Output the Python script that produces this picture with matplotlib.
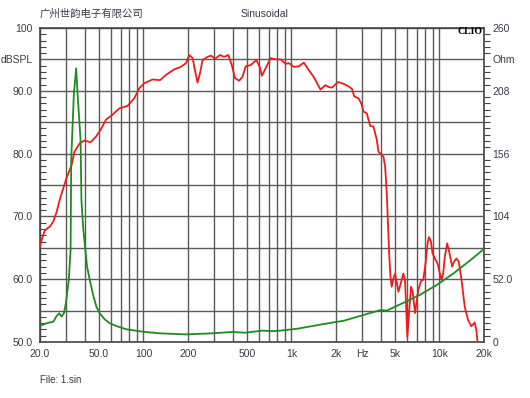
import numpy as np
import matplotlib
matplotlib.use('Agg')
import matplotlib.pyplot as plt
from matplotlib.ticker import FixedLocator, NullFormatter

# SPL curve (Hz, dBSPL)
spl_f = [20, 20.85, 21.6, 23.4, 24.6, 25.9, 27.3, 30.2, 32.7, 34.2, 37.0, 40.0,
         43.9, 47.8, 51.7, 55.8, 60.4, 68.8, 78.1, 86.7, 93.7, 101.2, 115.1,
         129.7, 141.4, 161.1, 178.3, 194, 204, 215, 224, 232, 241, 251, 271,
         286, 305, 329, 351, 375, 395, 416, 443, 466, 491, 531, 579, 610, 632,
         676, 724, 782, 845, 913, 962, 1038, 1122, 1212, 1309, 1415, 1513, 1571,
         1696, 1786, 1879, 2062, 2253, 2433, 2563, 2658, 2839, 2962, 3069, 3229,
         3405, 3584, 3773, 3873, 4185, 4296, 4406, 4480, 4574, 4664, 4757, 4887,
         5013, 5143, 5279, 5474, 5703, 5852, 5941, 6068, 6231, 6427, 6587, 6842,
         7006, 7197, 7507, 7773, 8056, 8313, 8497, 8763, 8979, 9318, 9706,
         10069, 10325, 10597, 10879, 11270, 11630, 12186, 12568, 13020, 13510,
         14063, 14824, 15600, 16430, 17303, 17760, 18030]
spl_db = [65.2, 66.8, 67.8, 68.4, 69.2, 70.7, 72.8, 76.1, 78.2, 80.3, 81.6, 82.1,
          81.8, 82.7, 83.9, 85.4, 86.0, 87.2, 87.6, 88.8, 90.4, 91.2, 91.8,
          91.7, 92.5, 93.4, 93.8, 94.4, 95.7, 95.2, 93.0, 91.3, 92.8, 94.9, 95.4,
          95.6, 95.1, 95.7, 95.4, 95.7, 94.1, 92.0, 91.6, 92.2, 93.9, 94.1, 94.9, 93.8, 92.4,
          93.8, 95.2, 95.0, 95.0, 94.3, 94.4, 93.8, 93.9, 94.5, 93.3, 92.2, 90.9, 90.2,
          90.9, 90.6, 90.5, 91.4, 91.1, 90.7, 90.3, 89.1, 88.8, 88.0, 86.7, 86.4,
          84.4, 84.3, 82.2, 80.3, 79.5, 77.9, 73.7, 69.4, 64.1, 60.4, 58.8, 60.1,
          60.9, 59.6, 58.0, 59.3, 60.9, 59.9, 56.2, 50.8, 54.6, 58.8, 58.0, 54.6,
          56.4, 58.3, 59.7, 59.9, 62.5, 65.7, 66.7, 66.0, 64.1, 63.3, 62.5,
          60.9, 59.9, 60.9, 63.6, 65.7, 64.4, 62.0, 62.8, 63.3, 62.8,
          60.1, 55.6, 53.5, 52.5, 53.1, 51.9, 50.3]

# impedance curve (Hz, Ohm)
imp_f = [20, 22.1, 24.6, 25.9, 27.0, 28.0, 29.0, 29.9, 31.3, 32.2, 32.5, 33.9,
         35.1, 36.0, 37.6, 38.1, 39.1, 40.1, 41.6, 43.4, 45.7, 48.1, 50.6, 54.7,
         59.2, 65.6, 76.8, 99.2, 128.5, 193.5, 292.6, 398.6, 489.2, 633.3, 750,
         843, 1098, 1654, 2254, 3073, 4004, 4406, 5612, 7348, 9576, 12470,
         16250, 19870]
imp_ohm = [13.2, 15.5, 16.8, 21.5, 23.8, 21.0, 23.8, 32.0, 51.3, 76.2, 150.7, 206.0,
           226.6, 203.0, 167.0, 117.6, 95.5, 81.7, 62.3, 51.3, 38.9, 29.2, 23.8, 18.8,
           15.5, 13.2, 10.5, 8.5, 7.2, 6.3, 7.2, 8.3, 7.7, 9.4, 9.0,
           9.4, 11.0, 14.9, 17.6, 22.4, 26.5, 26.0, 32.0, 38.9, 47.2, 56.9,
           67.9, 76.8]

xticks = [20, 50, 100, 200, 500, 1000, 2000, 3000, 5000, 10000, 20000]
xlabels = ['20.0', '50.0', '100', '200', '500', '1k', '2k', 'Hz', '5k', '10k', '20k']
yticks = [50, 55, 60, 65, 70, 75, 80, 85, 90, 95, 100]
ylabels = ['50.0', '', '60.0', '', '70.0', '', '80.0', '', '90.0', 'dBSPL', '100']
rticks = [0, 52, 104, 156, 208, 234, 260]
rlabels = ['0', '52.0', '104', '156', '208', 'Ohm', '260']

plt.rcParams['font.family'] = ['Liberation Sans', 'DejaVu Sans']
txtcol = '#3a3a4a'
gridcol = '#5a5a5a'

fig = plt.figure(figsize=(5.30, 3.98), dpi=100)
ax = fig.add_axes([40 / 530, 1 - 342 / 398, 444 / 530, 314 / 398])
ax.set_xscale('log')
ax.set_xlim(20, 20000)
ax.set_ylim(50, 100)

# grid
vgrid = [m * 10 ** d for d in range(1, 5) for m in range(1, 10) if 20 <= m * 10 ** d <= 20000]
for v in vgrid:
    ax.axvline(v, color=gridcol, lw=1.0, zorder=1)
for h in yticks:
    ax.axhline(h, color=gridcol, lw=1.0, zorder=1)

ax.plot(spl_f, spl_db, color='#ee1c1c', lw=1.3, zorder=3)

ax.xaxis.set_major_locator(FixedLocator(xticks))
ax.set_xticklabels(xlabels)
ax.xaxis.set_minor_formatter(NullFormatter())
ax.tick_params(axis='x', which='both', length=0, labelsize=7.5, colors=txtcol, pad=5)
ax.set_yticks(yticks)
ax.set_yticklabels(ylabels)
ax.yaxis.set_minor_locator(FixedLocator(np.arange(50, 101, 1)))
ax.tick_params(axis='y', which='major', length=0, labelsize=7.5, colors=txtcol, pad=5)
ax.tick_params(axis='y', which='minor', length=4, direction='in', color='#444444', width=0.8)
for s in ax.spines.values():
    s.set_color('#444444')
    s.set_linewidth(1.2)

ax2 = ax.twinx()
ax2.set_ylim(0, 260)
ax2.plot(imp_f, imp_ohm, color='#1e8c1e', lw=1.3, zorder=3)
ax2.set_yticks(rticks)
ax2.set_yticklabels(rlabels)
ax2.yaxis.set_minor_locator(FixedLocator(np.arange(0, 261, 5.2)))
ax2.tick_params(axis='y', which='major', length=0, labelsize=7.5, colors=txtcol, pad=6)
ax2.tick_params(axis='y', which='minor', length=4, direction='out', color='#444444', width=0.8)
for s in ax2.spines.values():
    s.set_visible(False)

fig.text(40 / 530, 1 - 14 / 398, '广州世韵电子有限公司', fontsize=7.5, color=txtcol,
         family=['Noto Sans CJK SC', 'DejaVu Sans'], va='center', ha='left')
fig.text(265 / 530, 1 - 14 / 398, 'Sinusoidal', fontsize=7.5, color=txtcol, va='center', ha='center')
fig.text(483 / 530, 1 - 32 / 398, 'CLIO', fontsize=7, color='black', va='center', ha='right',
         family='Liberation Serif', weight='bold')
fig.text(40 / 530, 1 - 380 / 398, 'File: 1.sin', fontsize=7, color=txtcol, va='center', ha='left')

plt.savefig('out.png', dpi=100)
